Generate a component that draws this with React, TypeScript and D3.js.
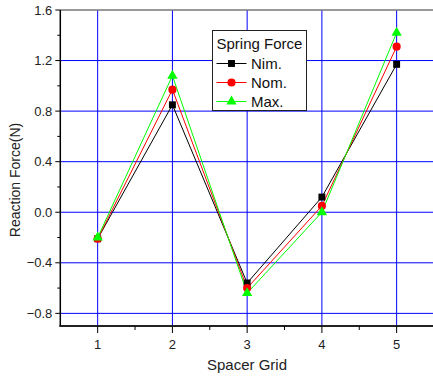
import React, { useEffect, useRef } from 'react'
import * as d3 from 'd3'

const grids = [1, 2, 3, 4, 5]
const nim = [-0.21, 0.85, -0.56, 0.12, 1.17]
const nom = [-0.21, 0.97, -0.6, 0.05, 1.31]
const max = [-0.2, 1.08, -0.64, 0.0, 1.42]
const yTicks = [-0.8, -0.4, 0.0, 0.4, 0.8, 1.2, 1.6]
const yMinor = [-0.6, -0.2, 0.2, 0.6, 1.0, 1.4]
const xMinor = [1.5, 2.5, 3.5, 4.5, 5.5]

const series = [
  { name: 'Nim.', values: nim, color: '#000000', symbol: d3.symbolSquare, size: 48 },
  { name: 'Nom.', values: nom, color: '#ff0000', symbol: d3.symbolCircle, size: 52 },
  { name: 'Max.', values: max, color: '#00ff00', symbol: d3.symbolTriangle, size: 46 }
]

const width = 433
const height = 378
const font = 'Liberation Sans, Arial, sans-serif'

const App = () => {
  const ref = useRef<SVGSVGElement>(null)

  useEffect(() => {
    const svg = d3.select(ref.current)
    svg.selectAll('*').remove()

    const x = d3.scaleLinear().domain([0.5, 5.5]).range([60.3, 434])
    const y = d3.scaleLinear().domain([-0.9, 1.6]).range([326, 10])

    svg.append('rect').attr('width', width).attr('height', height).attr('fill', '#fff')

    // grid
    const grid = svg.append('g').attr('stroke', '#0000ff').attr('stroke-width', 1)
    grid
      .selectAll('line.v')
      .data(grids)
      .enter()
      .append('line')
      .attr('x1', (d) => x(d))
      .attr('x2', (d) => x(d))
      .attr('y1', y(1.6))
      .attr('y2', y(-0.9))
    grid
      .selectAll('line.h')
      .data(yTicks.filter((d) => d < 1.5))
      .enter()
      .append('line')
      .attr('x1', x(0.5))
      .attr('x2', width)
      .attr('y1', (d) => y(d))
      .attr('y2', (d) => y(d))

    // top frame
    svg
      .append('line')
      .attr('x1', x(0.5))
      .attr('x2', width)
      .attr('y1', y(1.6))
      .attr('y2', y(1.6))
      .attr('stroke', '#777')
      .attr('stroke-width', 1.5)

    // series
    const line = d3
      .line<number>()
      .x((d, i) => x(grids[i]))
      .y((d) => y(d))

    series.forEach((s) => {
      svg
        .append('path')
        .attr('d', line(s.values))
        .attr('fill', 'none')
        .attr('stroke', s.color)
        .attr('stroke-width', 1)
    })
    series.forEach((s) => {
      svg
        .append('g')
        .selectAll('path')
        .data(s.values)
        .enter()
        .append('path')
        .attr('d', d3.symbol().type(s.symbol).size(s.size))
        .attr('transform', (d, i) => `translate(${x(grids[i])},${y(d)})`)
        .attr('fill', s.color)
    })

    // y axis
    const yAxis = svg.append('g').attr('stroke', '#000')
    yAxis
      .append('line')
      .attr('x1', x(0.5))
      .attr('x2', x(0.5))
      .attr('y1', y(1.6))
      .attr('y2', y(-0.9))
      .attr('stroke-width', 1.5)
    yAxis
      .selectAll('line.major')
      .data(yTicks)
      .enter()
      .append('line')
      .attr('x1', x(0.5) - 5)
      .attr('x2', x(0.5))
      .attr('y1', (d) => y(d))
      .attr('y2', (d) => y(d))
    yAxis
      .selectAll('line.minor')
      .data(yMinor)
      .enter()
      .append('line')
      .attr('x1', x(0.5) - 3)
      .attr('x2', x(0.5))
      .attr('y1', (d) => y(d))
      .attr('y2', (d) => y(d))
    svg
      .append('g')
      .selectAll('text')
      .data(yTicks)
      .enter()
      .append('text')
      .text((d) => d3.format('.1f')(d))
      .attr('x', x(0.5) - 8)
      .attr('y', (d) => y(d) + 4.5)
      .attr('text-anchor', 'end')
      .attr('font-family', font)
      .attr('font-size', 13)
      .attr('fill', '#222')

    // x axis
    const xAxis = svg.append('g').attr('stroke', '#000')
    xAxis
      .append('line')
      .attr('x1', x(0.5) - 1)
      .attr('x2', width)
      .attr('y1', y(-0.9))
      .attr('y2', y(-0.9))
      .attr('stroke-width', 2.2)
      .attr('stroke', '#222')
    xAxis
      .selectAll('line.major')
      .data(grids)
      .enter()
      .append('line')
      .attr('x1', (d) => x(d))
      .attr('x2', (d) => x(d))
      .attr('y1', y(-0.9))
      .attr('y2', y(-0.9) + 7)
    xAxis
      .selectAll('line.minor')
      .data(xMinor)
      .enter()
      .append('line')
      .attr('x1', (d) => x(d))
      .attr('x2', (d) => x(d))
      .attr('y1', y(-0.9))
      .attr('y2', y(-0.9) + 4)
    svg
      .append('g')
      .selectAll('text')
      .data(grids)
      .enter()
      .append('text')
      .text((d) => d)
      .attr('x', (d) => x(d))
      .attr('y', 349)
      .attr('text-anchor', 'middle')
      .attr('font-family', font)
      .attr('font-size', 13)
      .attr('fill', '#222')

    // axis titles
    svg
      .append('text')
      .text('Spacer Grid')
      .attr('x', 247)
      .attr('y', 370)
      .attr('text-anchor', 'middle')
      .attr('font-family', font)
      .attr('font-size', 15)
      .attr('fill', '#222')
    svg
      .append('text')
      .text('Reaction Force(N)')
      .attr('transform', 'translate(20,180) rotate(-90)')
      .attr('text-anchor', 'middle')
      .attr('font-family', font)
      .attr('font-size', 14)
      .attr('fill', '#222')

    // legend
    const legend = svg.append('g').attr('transform', 'translate(212.5,30.5)')
    legend
      .append('rect')
      .attr('width', 94)
      .attr('height', 80)
      .attr('fill', '#fff')
      .attr('stroke', '#222')
      .attr('stroke-width', 1)
    legend
      .append('text')
      .text('Spring Force')
      .attr('x', 4)
      .attr('y', 18.5)
      .attr('font-family', font)
      .attr('font-size', 15)
      .attr('fill', '#111')
    series.forEach((s, i) => {
      const cy = 33 + i * 19
      legend
        .append('line')
        .attr('x1', 4)
        .attr('x2', 34)
        .attr('y1', cy)
        .attr('y2', cy)
        .attr('stroke', s.color)
        .attr('stroke-width', 1)
      legend
        .append('path')
        .attr('d', d3.symbol().type(s.symbol).size(s.size))
        .attr('transform', `translate(19,${cy})`)
        .attr('fill', s.color)
      legend
        .append('text')
        .text(s.name)
        .attr('x', 38.5)
        .attr('y', cy + 5.5)
        .attr('font-family', font)
        .attr('font-size', 15)
        .attr('fill', '#111')
    })
  }, [])

  return (
    <svg
      ref={ref}
      width={width}
      height={height}
      style={{ position: 'absolute', left: 0, top: 0 }}
    />
  )
}

export default App
